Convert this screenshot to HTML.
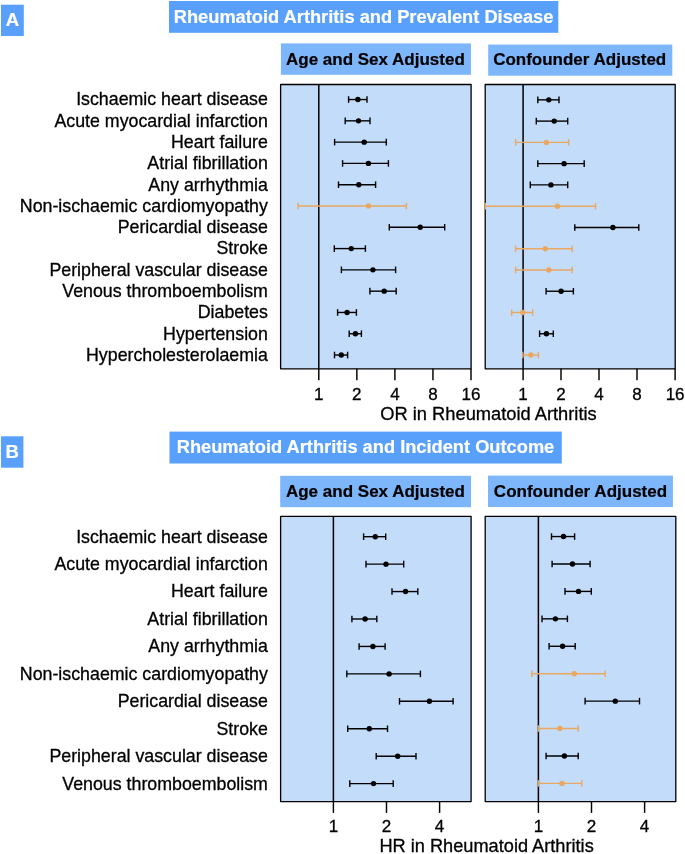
<!DOCTYPE html>
<html><head><meta charset="utf-8"><title>Rheumatoid Arthritis forest plots</title>
<style>
html,body{margin:0;padding:0;background:#fff;}
svg{display:block;}
text{font-family:"Liberation Sans",sans-serif;}
.lab{font-size:17.8px;fill:#000;stroke:#000;stroke-width:0.3px;text-anchor:end;}
.tick{font-size:17px;fill:#000;stroke:#000;stroke-width:0.3px;text-anchor:middle;}
.ax{fill:#000;stroke:#000;stroke-width:0.3px;text-anchor:middle;}
.ttl{font-size:18.25px;font-weight:bold;fill:#fff;stroke:#fff;stroke-width:0.2px;text-anchor:middle;}
.sub{font-weight:bold;fill:#000;stroke:#000;stroke-width:0.2px;text-anchor:middle;}
.pl{font-size:18.6px;font-weight:bold;fill:#fff;stroke:#fff;stroke-width:0.2px;text-anchor:middle;}
</style></head><body>
<svg width="685" height="854" viewBox="0 0 685 854">
<rect width="685" height="854" fill="#fff"/>
<rect x="1" y="4.7" width="22.80" height="31.30" fill="#58A0FB"/>
<text class="pl" x="12.4" y="26.2">A</text>
<rect x="169" y="1" width="389.30" height="31.80" fill="#58A0FB"/>
<text class="ttl" x="363.6" y="23.2">Rheumatoid Arthritis and Prevalent Disease</text>
<rect x="280.9" y="43.4" width="190.00" height="31.40" fill="#7DB6FA"/>
<text class="sub" font-size="17.0" x="375.4" y="64.5">Age and Sex Adjusted</text>
<rect x="488.2" y="44.6" width="184.10" height="31.10" fill="#7DB6FA"/>
<text class="sub" font-size="17.0" x="579.7" y="65.4">Confounder Adjusted</text>
<rect x="280.6" y="84.5" width="190.50" height="284.30" fill="#C3DCFA" stroke="#000" stroke-width="1.3" stroke-linejoin="round"/>
<line x1="318.8" y1="84.5" x2="318.8" y2="368.8" stroke="#000" stroke-width="1.5"/>
<line x1="318.8" y1="368.8" x2="318.8" y2="380.2" stroke="#000" stroke-width="1.45"/>
<text class="tick" x="318.8" y="400.2">1</text>
<line x1="356.85" y1="368.8" x2="356.85" y2="380.2" stroke="#000" stroke-width="1.45"/>
<text class="tick" x="356.85" y="400.2">2</text>
<line x1="394.9" y1="368.8" x2="394.9" y2="380.2" stroke="#000" stroke-width="1.45"/>
<text class="tick" x="394.9" y="400.2">4</text>
<line x1="432.95" y1="368.8" x2="432.95" y2="380.2" stroke="#000" stroke-width="1.45"/>
<text class="tick" x="432.95" y="400.2">8</text>
<line x1="471.0" y1="368.8" x2="471.0" y2="380.2" stroke="#000" stroke-width="1.45"/>
<text class="tick" x="471.0" y="400.2">16</text>
<g stroke="#000" stroke-width="1.4" fill="#000"><line x1="348.6" y1="99.55" x2="367.0" y2="99.55"/><line x1="348.6" y1="96.25" x2="348.6" y2="102.85"/><line x1="367.0" y1="96.25" x2="367.0" y2="102.85"/><circle cx="357.9" cy="99.55" r="2.7" stroke="none"/></g>
<g stroke="#000" stroke-width="1.4" fill="#000"><line x1="345.2" y1="120.84" x2="370.0" y2="120.84"/><line x1="345.2" y1="117.54" x2="345.2" y2="124.14"/><line x1="370.0" y1="117.54" x2="370.0" y2="124.14"/><circle cx="358.5" cy="120.84" r="2.7" stroke="none"/></g>
<g stroke="#000" stroke-width="1.4" fill="#000"><line x1="334.6" y1="142.13" x2="386.3" y2="142.13"/><line x1="334.6" y1="138.83" x2="334.6" y2="145.43"/><line x1="386.3" y1="138.83" x2="386.3" y2="145.43"/><circle cx="364.2" cy="142.13" r="2.7" stroke="none"/></g>
<g stroke="#000" stroke-width="1.4" fill="#000"><line x1="342.6" y1="163.42" x2="388.4" y2="163.42"/><line x1="342.6" y1="160.12" x2="342.6" y2="166.72"/><line x1="388.4" y1="160.12" x2="388.4" y2="166.72"/><circle cx="368.4" cy="163.42" r="2.7" stroke="none"/></g>
<g stroke="#000" stroke-width="1.4" fill="#000"><line x1="338.5" y1="184.71" x2="375.6" y2="184.71"/><line x1="338.5" y1="181.41" x2="338.5" y2="188.01"/><line x1="375.6" y1="181.41" x2="375.6" y2="188.01"/><circle cx="358.8" cy="184.71" r="2.7" stroke="none"/></g>
<g stroke="#E9A862" stroke-width="1.4" fill="#E9A862"><line x1="298" y1="206.00" x2="406.4" y2="206.00"/><line x1="298" y1="202.70" x2="298" y2="209.30"/><line x1="406.4" y1="202.70" x2="406.4" y2="209.30"/><circle cx="368.4" cy="206.00" r="2.7" stroke="none"/></g>
<g stroke="#000" stroke-width="1.4" fill="#000"><line x1="389.3" y1="227.29" x2="444.7" y2="227.29"/><line x1="389.3" y1="223.99" x2="389.3" y2="230.59"/><line x1="444.7" y1="223.99" x2="444.7" y2="230.59"/><circle cx="420.2" cy="227.29" r="2.7" stroke="none"/></g>
<g stroke="#000" stroke-width="1.4" fill="#000"><line x1="334.3" y1="248.58" x2="365.4" y2="248.58"/><line x1="334.3" y1="245.28" x2="334.3" y2="251.88"/><line x1="365.4" y1="245.28" x2="365.4" y2="251.88"/><circle cx="351.3" cy="248.58" r="2.7" stroke="none"/></g>
<g stroke="#000" stroke-width="1.4" fill="#000"><line x1="341.4" y1="269.87" x2="395.6" y2="269.87"/><line x1="341.4" y1="266.57" x2="341.4" y2="273.17"/><line x1="395.6" y1="266.57" x2="395.6" y2="273.17"/><circle cx="372.9" cy="269.87" r="2.7" stroke="none"/></g>
<g stroke="#000" stroke-width="1.4" fill="#000"><line x1="369.9" y1="291.16" x2="396.2" y2="291.16"/><line x1="369.9" y1="287.86" x2="369.9" y2="294.46"/><line x1="396.2" y1="287.86" x2="396.2" y2="294.46"/><circle cx="384.2" cy="291.16" r="2.7" stroke="none"/></g>
<g stroke="#000" stroke-width="1.4" fill="#000"><line x1="337.6" y1="312.45" x2="356.4" y2="312.45"/><line x1="337.6" y1="309.15" x2="337.6" y2="315.75"/><line x1="356.4" y1="309.15" x2="356.4" y2="315.75"/><circle cx="347.1" cy="312.45" r="2.7" stroke="none"/></g>
<g stroke="#000" stroke-width="1.4" fill="#000"><line x1="349.2" y1="333.74" x2="361.4" y2="333.74"/><line x1="349.2" y1="330.44" x2="349.2" y2="337.04"/><line x1="361.4" y1="330.44" x2="361.4" y2="337.04"/><circle cx="355.4" cy="333.74" r="2.7" stroke="none"/></g>
<g stroke="#000" stroke-width="1.4" fill="#000"><line x1="334.5" y1="355.03" x2="347.6" y2="355.03"/><line x1="334.5" y1="351.73" x2="334.5" y2="358.33"/><line x1="347.6" y1="351.73" x2="347.6" y2="358.33"/><circle cx="341.3" cy="355.03" r="2.7" stroke="none"/></g>
<rect x="485.2" y="84.5" width="190.00" height="284.30" fill="#C3DCFA" stroke="#000" stroke-width="1.3" stroke-linejoin="round"/>
<line x1="523.1" y1="84.5" x2="523.1" y2="368.8" stroke="#000" stroke-width="1.5"/>
<line x1="523.1" y1="368.8" x2="523.1" y2="380.2" stroke="#000" stroke-width="1.45"/>
<text class="tick" x="523.1" y="400.2">1</text>
<line x1="561.0" y1="368.8" x2="561.0" y2="380.2" stroke="#000" stroke-width="1.45"/>
<text class="tick" x="561.0" y="400.2">2</text>
<line x1="599.0" y1="368.8" x2="599.0" y2="380.2" stroke="#000" stroke-width="1.45"/>
<text class="tick" x="599.0" y="400.2">4</text>
<line x1="637.0" y1="368.8" x2="637.0" y2="380.2" stroke="#000" stroke-width="1.45"/>
<text class="tick" x="637.0" y="400.2">8</text>
<line x1="675.1" y1="368.8" x2="675.1" y2="380.2" stroke="#000" stroke-width="1.45"/>
<text class="tick" x="675.1" y="400.2">16</text>
<g stroke="#000" stroke-width="1.4" fill="#000"><line x1="537.8" y1="99.85" x2="559" y2="99.85"/><line x1="537.8" y1="96.55" x2="537.8" y2="103.15"/><line x1="559" y1="96.55" x2="559" y2="103.15"/><circle cx="548.8" cy="99.85" r="2.7" stroke="none"/></g>
<g stroke="#000" stroke-width="1.4" fill="#000"><line x1="536.3" y1="121.11" x2="567.7" y2="121.11"/><line x1="536.3" y1="117.81" x2="536.3" y2="124.41"/><line x1="567.7" y1="117.81" x2="567.7" y2="124.41"/><circle cx="554.2" cy="121.11" r="2.7" stroke="none"/></g>
<g stroke="#E9A862" stroke-width="1.4" fill="#E9A862"><line x1="515.6" y1="142.38" x2="568.6" y2="142.38"/><line x1="515.6" y1="139.08" x2="515.6" y2="145.68"/><line x1="568.6" y1="139.08" x2="568.6" y2="145.68"/><circle cx="546.4" cy="142.38" r="2.7" stroke="none"/></g>
<g stroke="#000" stroke-width="1.4" fill="#000"><line x1="537.8" y1="163.64" x2="584.2" y2="163.64"/><line x1="537.8" y1="160.34" x2="537.8" y2="166.94"/><line x1="584.2" y1="160.34" x2="584.2" y2="166.94"/><circle cx="564.1" cy="163.64" r="2.7" stroke="none"/></g>
<g stroke="#000" stroke-width="1.4" fill="#000"><line x1="530.3" y1="184.91" x2="567.7" y2="184.91"/><line x1="530.3" y1="181.61" x2="530.3" y2="188.21"/><line x1="567.7" y1="181.61" x2="567.7" y2="188.21"/><circle cx="550.9" cy="184.91" r="2.7" stroke="none"/></g>
<g stroke="#E9A862" stroke-width="1.4" fill="#E9A862"><line x1="485.4" y1="206.18" x2="595.5" y2="206.18"/><line x1="485.4" y1="202.88" x2="485.4" y2="209.48"/><line x1="595.5" y1="202.88" x2="595.5" y2="209.48"/><circle cx="557.5" cy="206.18" r="2.7" stroke="none"/></g>
<g stroke="#000" stroke-width="1.4" fill="#000"><line x1="574.8" y1="227.44" x2="638.8" y2="227.44"/><line x1="574.8" y1="224.14" x2="574.8" y2="230.74"/><line x1="638.8" y1="224.14" x2="638.8" y2="230.74"/><circle cx="612.9" cy="227.44" r="2.7" stroke="none"/></g>
<g stroke="#E9A862" stroke-width="1.4" fill="#E9A862"><line x1="515.6" y1="248.71" x2="572.2" y2="248.71"/><line x1="515.6" y1="245.41" x2="515.6" y2="252.01"/><line x1="572.2" y1="245.41" x2="572.2" y2="252.01"/><circle cx="545.2" cy="248.71" r="2.7" stroke="none"/></g>
<g stroke="#E9A862" stroke-width="1.4" fill="#E9A862"><line x1="515.6" y1="269.97" x2="572.2" y2="269.97"/><line x1="515.6" y1="266.67" x2="515.6" y2="273.27"/><line x1="572.2" y1="266.67" x2="572.2" y2="273.27"/><circle cx="548.8" cy="269.97" r="2.7" stroke="none"/></g>
<g stroke="#000" stroke-width="1.4" fill="#000"><line x1="546.1" y1="291.24" x2="573.4" y2="291.24"/><line x1="546.1" y1="287.94" x2="546.1" y2="294.54"/><line x1="573.4" y1="287.94" x2="573.4" y2="294.54"/><circle cx="561.1" cy="291.24" r="2.7" stroke="none"/></g>
<g stroke="#E9A862" stroke-width="1.4" fill="#E9A862"><line x1="511.7" y1="312.50" x2="532.7" y2="312.50"/><line x1="511.7" y1="309.20" x2="511.7" y2="315.80"/><line x1="532.7" y1="309.20" x2="532.7" y2="315.80"/><circle cx="522.8" cy="312.50" r="2.7" stroke="none"/></g>
<g stroke="#000" stroke-width="1.4" fill="#000"><line x1="539.6" y1="333.76" x2="553.3" y2="333.76"/><line x1="539.6" y1="330.46" x2="539.6" y2="337.06"/><line x1="553.3" y1="330.46" x2="553.3" y2="337.06"/><circle cx="546.4" cy="333.76" r="2.7" stroke="none"/></g>
<g stroke="#E9A862" stroke-width="1.4" fill="#E9A862"><line x1="522.8" y1="355.03" x2="538.4" y2="355.03"/><line x1="522.8" y1="351.73" x2="522.8" y2="358.33"/><line x1="538.4" y1="351.73" x2="538.4" y2="358.33"/><circle cx="530.9" cy="355.03" r="2.7" stroke="none"/></g>
<text class="ax" font-size="18.3" x="488.5" y="420.0">OR in Rheumatoid Arthritis</text>
<text class="lab" x="267.9" y="105.45">Ischaemic heart disease</text>
<text class="lab" x="267.9" y="126.74">Acute myocardial infarction</text>
<text class="lab" x="267.9" y="148.03">Heart failure</text>
<text class="lab" x="267.9" y="169.32">Atrial fibrillation</text>
<text class="lab" x="267.9" y="190.61">Any arrhythmia</text>
<text class="lab" x="267.9" y="211.90">Non-ischaemic cardiomyopathy</text>
<text class="lab" x="267.9" y="233.19">Pericardial disease</text>
<text class="lab" x="267.9" y="254.48">Stroke</text>
<text class="lab" x="267.9" y="275.77">Peripheral vascular disease</text>
<text class="lab" x="267.9" y="297.06">Venous thromboembolism</text>
<text class="lab" x="267.9" y="318.35">Diabetes</text>
<text class="lab" x="267.9" y="339.64">Hypertension</text>
<text class="lab" x="267.9" y="360.93">Hypercholesterolaemia</text>
<rect x="1" y="436.3" width="22.40" height="31.40" fill="#58A0FB"/>
<text class="pl" x="12.2" y="458.3">B</text>
<rect x="169.5" y="431.6" width="392.30" height="31.90" fill="#58A0FB"/>
<text class="ttl" x="365.5" y="453.3">Rheumatoid Arthritis and Incident Outcome</text>
<rect x="280.2" y="475.8" width="190.80" height="31.40" fill="#7DB6FA"/>
<text class="sub" font-size="17.03" x="375.45" y="496.8">Age and Sex Adjusted</text>
<rect x="488" y="475.6" width="184.90" height="31.40" fill="#7DB6FA"/>
<text class="sub" font-size="17.03" x="580.5" y="496.8">Confounder Adjusted</text>
<rect x="280.6" y="516.3" width="190.50" height="285.30" fill="#C3DCFA" stroke="#000" stroke-width="1.3" stroke-linejoin="round"/>
<line x1="333.4" y1="516.3" x2="333.4" y2="801.6" stroke="#000" stroke-width="1.5"/>
<line x1="333.4" y1="801.6" x2="333.4" y2="812.9" stroke="#000" stroke-width="1.45"/>
<text class="tick" x="333.4" y="832">1</text>
<line x1="386.5" y1="801.6" x2="386.5" y2="812.9" stroke="#000" stroke-width="1.45"/>
<text class="tick" x="386.5" y="832">2</text>
<line x1="439.6" y1="801.6" x2="439.6" y2="812.9" stroke="#000" stroke-width="1.45"/>
<text class="tick" x="439.6" y="832">4</text>
<g stroke="#000" stroke-width="1.4" fill="#000"><line x1="363.6" y1="536.70" x2="385.7" y2="536.70"/><line x1="363.6" y1="533.40" x2="363.6" y2="540.00"/><line x1="385.7" y1="533.40" x2="385.7" y2="540.00"/><circle cx="375.3" cy="536.70" r="2.7" stroke="none"/></g>
<g stroke="#000" stroke-width="1.4" fill="#000"><line x1="366" y1="564.13" x2="403.7" y2="564.13"/><line x1="366" y1="560.84" x2="366" y2="567.43"/><line x1="403.7" y1="560.84" x2="403.7" y2="567.43"/><circle cx="386" cy="564.13" r="2.7" stroke="none"/></g>
<g stroke="#000" stroke-width="1.4" fill="#000"><line x1="392" y1="591.57" x2="417.8" y2="591.57"/><line x1="392" y1="588.27" x2="392" y2="594.87"/><line x1="417.8" y1="588.27" x2="417.8" y2="594.87"/><circle cx="405.5" cy="591.57" r="2.7" stroke="none"/></g>
<g stroke="#000" stroke-width="1.4" fill="#000"><line x1="351.9" y1="619.00" x2="376.8" y2="619.00"/><line x1="351.9" y1="615.71" x2="351.9" y2="622.30"/><line x1="376.8" y1="615.71" x2="376.8" y2="622.30"/><circle cx="365.1" cy="619.00" r="2.7" stroke="none"/></g>
<g stroke="#000" stroke-width="1.4" fill="#000"><line x1="359.1" y1="646.44" x2="385.1" y2="646.44"/><line x1="359.1" y1="643.14" x2="359.1" y2="649.74"/><line x1="385.1" y1="643.14" x2="385.1" y2="649.74"/><circle cx="372.9" cy="646.44" r="2.7" stroke="none"/></g>
<g stroke="#000" stroke-width="1.4" fill="#000"><line x1="346.8" y1="673.88" x2="420.4" y2="673.88"/><line x1="346.8" y1="670.58" x2="346.8" y2="677.17"/><line x1="420.4" y1="670.58" x2="420.4" y2="677.17"/><circle cx="389.1" cy="673.88" r="2.7" stroke="none"/></g>
<g stroke="#000" stroke-width="1.4" fill="#000"><line x1="399.5" y1="701.31" x2="453.1" y2="701.31"/><line x1="399.5" y1="698.01" x2="399.5" y2="704.61"/><line x1="453.1" y1="698.01" x2="453.1" y2="704.61"/><circle cx="429.4" cy="701.31" r="2.7" stroke="none"/></g>
<g stroke="#000" stroke-width="1.4" fill="#000"><line x1="347.7" y1="728.75" x2="387.5" y2="728.75"/><line x1="347.7" y1="725.45" x2="347.7" y2="732.04"/><line x1="387.5" y1="725.45" x2="387.5" y2="732.04"/><circle cx="369.3" cy="728.75" r="2.7" stroke="none"/></g>
<g stroke="#000" stroke-width="1.4" fill="#000"><line x1="376.2" y1="756.18" x2="416" y2="756.18"/><line x1="376.2" y1="752.88" x2="376.2" y2="759.48"/><line x1="416" y1="752.88" x2="416" y2="759.48"/><circle cx="397.7" cy="756.18" r="2.7" stroke="none"/></g>
<g stroke="#000" stroke-width="1.4" fill="#000"><line x1="349.8" y1="783.62" x2="393.2" y2="783.62"/><line x1="349.8" y1="780.32" x2="349.8" y2="786.91"/><line x1="393.2" y1="780.32" x2="393.2" y2="786.91"/><circle cx="373.5" cy="783.62" r="2.7" stroke="none"/></g>
<rect x="485.2" y="516.3" width="190.60" height="285.30" fill="#C3DCFA" stroke="#000" stroke-width="1.3" stroke-linejoin="round"/>
<line x1="538.4" y1="516.3" x2="538.4" y2="801.6" stroke="#000" stroke-width="1.5"/>
<line x1="538.4" y1="801.6" x2="538.4" y2="812.9" stroke="#000" stroke-width="1.45"/>
<text class="tick" x="538.4" y="832">1</text>
<line x1="591.5" y1="801.6" x2="591.5" y2="812.9" stroke="#000" stroke-width="1.45"/>
<text class="tick" x="591.5" y="832">2</text>
<line x1="644.6" y1="801.6" x2="644.6" y2="812.9" stroke="#000" stroke-width="1.45"/>
<text class="tick" x="644.6" y="832">4</text>
<g stroke="#000" stroke-width="1.4" fill="#000"><line x1="551.5" y1="536.55" x2="574.6" y2="536.55"/><line x1="551.5" y1="533.25" x2="551.5" y2="539.85"/><line x1="574.6" y1="533.25" x2="574.6" y2="539.85"/><circle cx="563.5" cy="536.55" r="2.7" stroke="none"/></g>
<g stroke="#000" stroke-width="1.4" fill="#000"><line x1="552.1" y1="563.98" x2="590.1" y2="563.98"/><line x1="552.1" y1="560.68" x2="552.1" y2="567.28"/><line x1="590.1" y1="560.68" x2="590.1" y2="567.28"/><circle cx="572.5" cy="563.98" r="2.7" stroke="none"/></g>
<g stroke="#000" stroke-width="1.4" fill="#000"><line x1="565" y1="591.41" x2="591.3" y2="591.41"/><line x1="565" y1="588.11" x2="565" y2="594.71"/><line x1="591.3" y1="588.11" x2="591.3" y2="594.71"/><circle cx="578.5" cy="591.41" r="2.7" stroke="none"/></g>
<g stroke="#000" stroke-width="1.4" fill="#000"><line x1="542" y1="618.84" x2="567.4" y2="618.84"/><line x1="542" y1="615.54" x2="542" y2="622.14"/><line x1="567.4" y1="615.54" x2="567.4" y2="622.14"/><circle cx="555.4" cy="618.84" r="2.7" stroke="none"/></g>
<g stroke="#000" stroke-width="1.4" fill="#000"><line x1="549.1" y1="646.27" x2="575.2" y2="646.27"/><line x1="549.1" y1="642.97" x2="549.1" y2="649.57"/><line x1="575.2" y1="642.97" x2="575.2" y2="649.57"/><circle cx="562.6" cy="646.27" r="2.7" stroke="none"/></g>
<g stroke="#E9A862" stroke-width="1.4" fill="#E9A862"><line x1="531.8" y1="673.70" x2="605.1" y2="673.70"/><line x1="531.8" y1="670.40" x2="531.8" y2="677.00"/><line x1="605.1" y1="670.40" x2="605.1" y2="677.00"/><circle cx="574.3" cy="673.70" r="2.7" stroke="none"/></g>
<g stroke="#000" stroke-width="1.4" fill="#000"><line x1="585.1" y1="701.13" x2="639.5" y2="701.13"/><line x1="585.1" y1="697.83" x2="585.1" y2="704.43"/><line x1="639.5" y1="697.83" x2="639.5" y2="704.43"/><circle cx="615.3" cy="701.13" r="2.7" stroke="none"/></g>
<g stroke="#E9A862" stroke-width="1.4" fill="#E9A862"><line x1="538.4" y1="728.56" x2="578.2" y2="728.56"/><line x1="538.4" y1="725.26" x2="538.4" y2="731.86"/><line x1="578.2" y1="725.26" x2="578.2" y2="731.86"/><circle cx="559.9" cy="728.56" r="2.7" stroke="none"/></g>
<g stroke="#000" stroke-width="1.4" fill="#000"><line x1="546.1" y1="755.99" x2="578.2" y2="755.99"/><line x1="546.1" y1="752.69" x2="546.1" y2="759.29"/><line x1="578.2" y1="752.69" x2="578.2" y2="759.29"/><circle cx="564.4" cy="755.99" r="2.7" stroke="none"/></g>
<g stroke="#E9A862" stroke-width="1.4" fill="#E9A862"><line x1="538.4" y1="783.42" x2="581.8" y2="783.42"/><line x1="538.4" y1="780.12" x2="538.4" y2="786.72"/><line x1="581.8" y1="780.12" x2="581.8" y2="786.72"/><circle cx="562" cy="783.42" r="2.7" stroke="none"/></g>
<text class="ax" font-size="18.2" x="486.6" y="851.5">HR in Rheumatoid Arthritis</text>
<text class="lab" x="267.9" y="542.60">Ischaemic heart disease</text>
<text class="lab" x="267.9" y="570.03">Acute myocardial infarction</text>
<text class="lab" x="267.9" y="597.47">Heart failure</text>
<text class="lab" x="267.9" y="624.90">Atrial fibrillation</text>
<text class="lab" x="267.9" y="652.34">Any arrhythmia</text>
<text class="lab" x="267.9" y="679.77">Non-ischaemic cardiomyopathy</text>
<text class="lab" x="267.9" y="707.21">Pericardial disease</text>
<text class="lab" x="267.9" y="734.64">Stroke</text>
<text class="lab" x="267.9" y="762.08">Peripheral vascular disease</text>
<text class="lab" x="267.9" y="789.51">Venous thromboembolism</text>
</svg></body></html>
